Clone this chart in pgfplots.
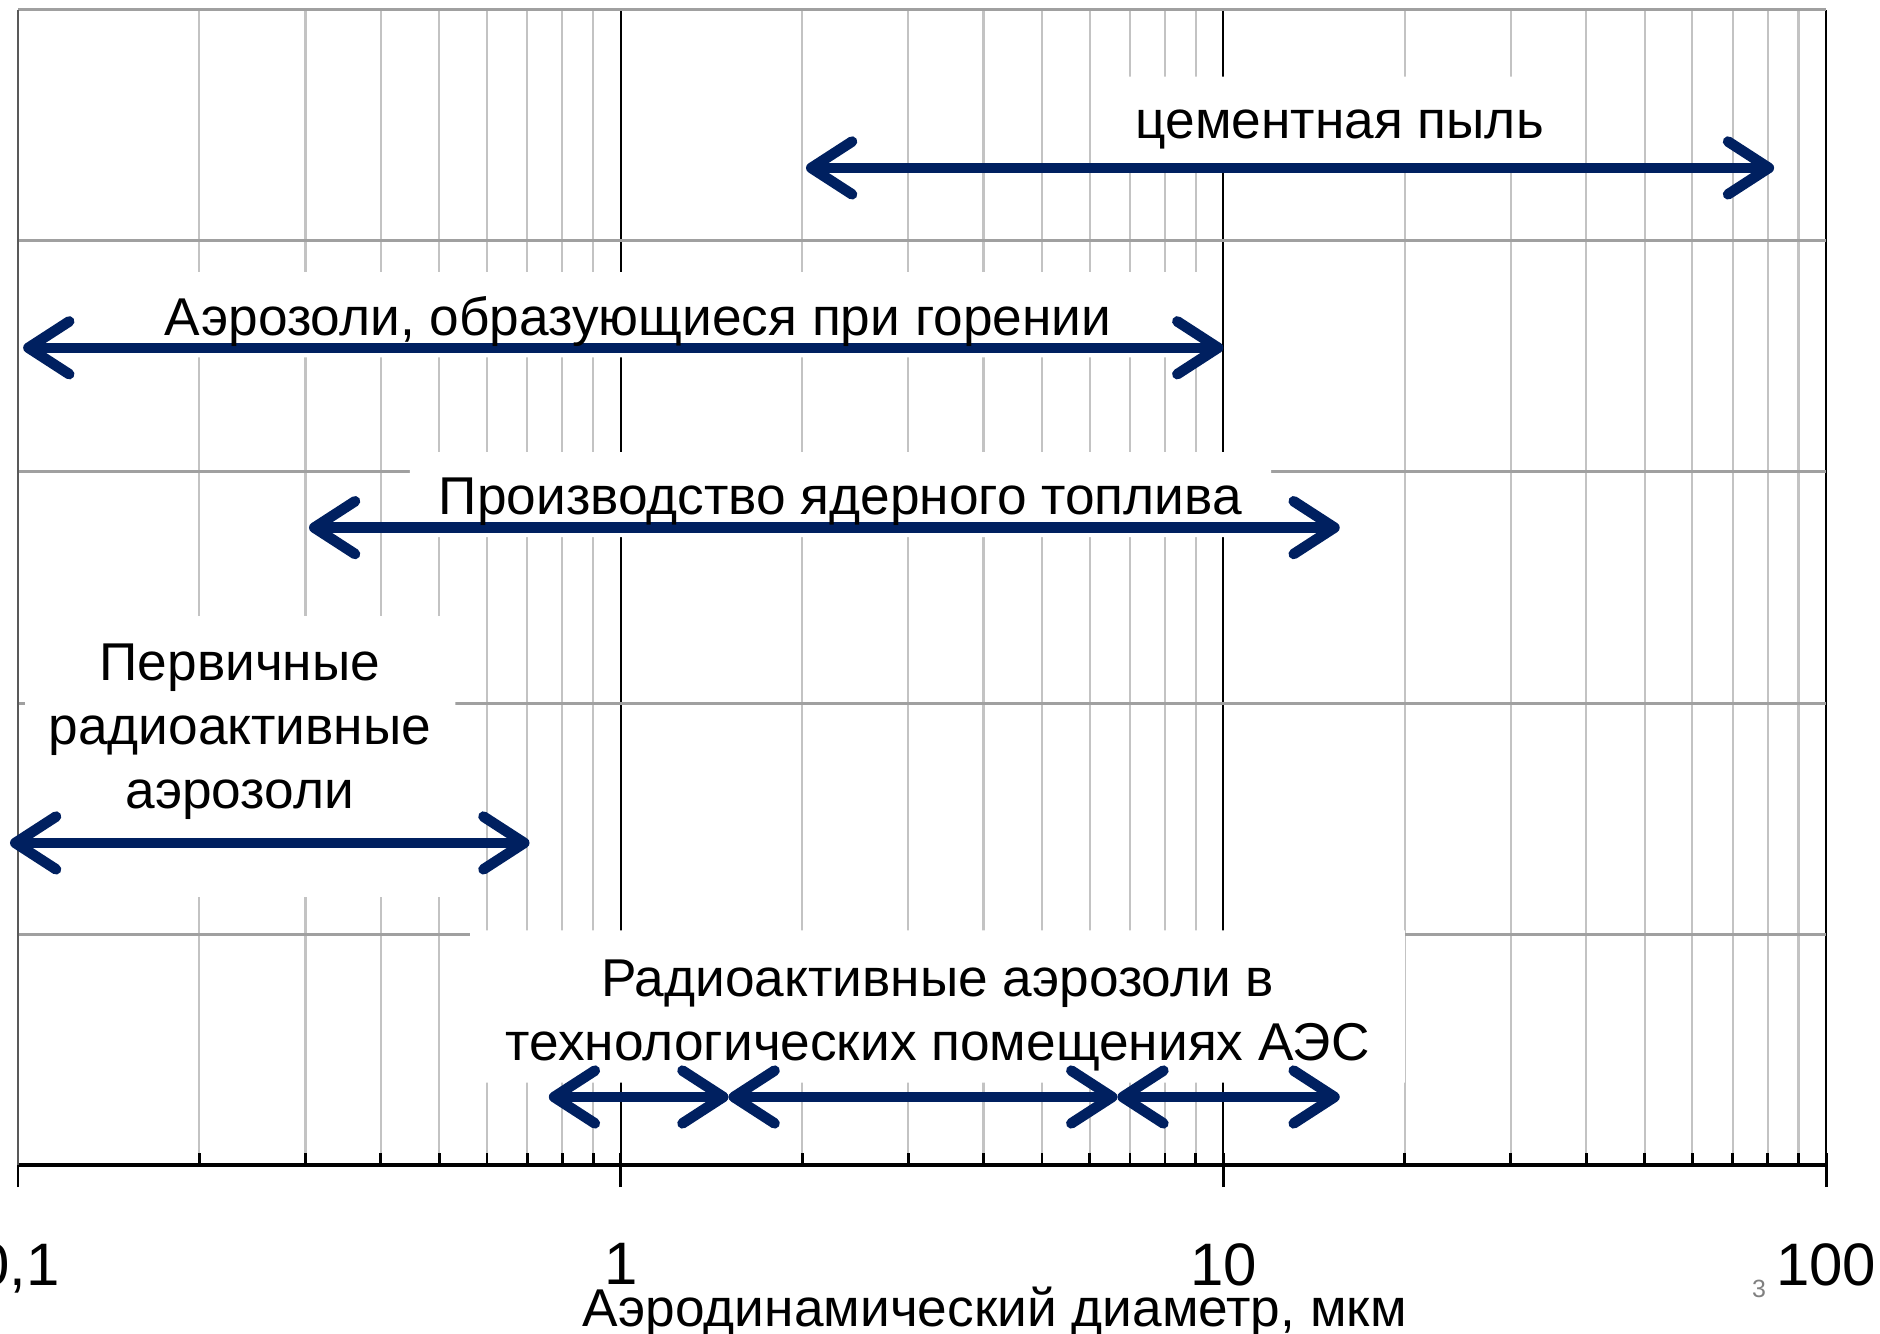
\documentclass[border=0pt]{standalone}
\usepackage{fontspec}
\setmainfont{Liberation Sans}
\usepackage{pgfplots}
\pgfplotsset{compat=1.18}
\usetikzlibrary{arrows.meta}
\definecolor{navy}{RGB}{0,32,96}
\definecolor{gridgray}{RGB}{195,195,195}
\definecolor{rowgray}{RGB}{160,160,160}

\begin{document}
\begin{tikzpicture}[
  rng/.style={navy, line width=2.2pt,
    {Straight Barb[length=8.5pt,width=11pt,round]}-{Straight Barb[length=8.5pt,width=11pt,round]}},
  lbl/.style={font=\fontsize{11.1}{13.3}\selectfont, align=center, inner sep=0pt}
]
\begin{axis}[
  xmode=log,
  scale only axis, width=377pt, height=241pt,
  xmin=0.1, xmax=100, ymin=0, ymax=5,
  axis x line*=bottom, axis y line*=left,
  x axis line style={black, line width=0.85pt},
  y axis line style={black!65, line width=0.5pt},
  xtick={0.1,1,10,100},
  xticklabels={{0,1},1,10,100},
  ytick={0,1,2,3,4,5}, yticklabels={},
  ytick style={draw=none},
  xtick align=inside,
  major tick length=2.5pt, minor tick length=2.5pt,
  xtick style={black, line width=0.6pt},
  extra x ticks={0.1,1,10,100},
  extra x tick labels={},
  extra x tick style={tick align=outside, major tick length=4.5pt, grid=none},
  xmajorgrids, xminorgrids, ymajorgrids,
  major x grid style={black, line width=0.45pt},
  minor x grid style={gridgray, line width=0.45pt},
  major y grid style={rowgray, line width=0.6pt},
  xticklabel style={font=\fontsize{12.5}{14}\selectfont, yshift=-12.8pt},
  xlabel={Аэродинамический диаметр, мкм},
  xlabel style={font=\fontsize{11.1}{13}\selectfont, at={(axis description cs:0.54,-0.127)}, anchor=center},
  no markers,
  clip=false,
]
% white label boxes
\addplot[draw=none, fill=white] coordinates {(6.92,4.315) (34.4,4.315) (34.4,4.71) (6.92,4.71) (6.92,4.315)};
\addplot[draw=none, fill=white] coordinates {(0.1023,3.496) (9.53,3.496) (9.53,3.864) (0.1023,3.864) (0.1023,3.496)};
\addplot[draw=none, fill=white] coordinates {(0.447,2.718) (12.0,2.718) (12.0,3.086) (0.447,3.086) (0.447,2.718)};
\addplot[draw=none, fill=white] coordinates {(0.1028,1.162) (0.532,1.162) (0.532,2.376) (0.1028,2.376) (0.1028,1.162)};
\addplot[draw=none, fill=white] coordinates {(0.5625,0.358) (20.0,0.358) (20.0,1.017) (0.5625,1.017) (0.5625,0.358)};
% size ranges
\addplot[rng] coordinates {(2.03,4.315) (82,4.315)};
\addplot[rng] coordinates {(0.102,3.537) (10,3.537)};
\addplot[rng] coordinates {(0.304,2.759) (15.6,2.759)};
\addplot[rng] coordinates {(0.097,1.395) (0.706,1.395)};
\addplot[rng] coordinates {(0.76,0.296) (1.51,0.296)};
\addplot[rng] coordinates {(1.51,0.296) (6.67,0.296)};
\addplot[rng] coordinates {(6.67,0.296) (15.6,0.296)};
% labels
\node[lbl] at (axis cs:15.6,4.482) {цементная пыль};
\node[lbl] at (axis cs:1.068,3.651) {Аэрозоли, образующиеся при горении};
\node[lbl] at (axis cs:2.315,2.873) {Производство ядерного топлива};
\node[lbl] at (axis cs:0.2334,1.877) {Первичные\\радиоактивные\\аэрозоли};
\node[lbl] at (axis cs:3.357,0.648) {Радиоактивные аэрозоли в\\технологических помещениях АЭС};
\node[font=\fontsize{5.2}{6}\selectfont, text=gray] at (rel axis cs:0.963,-0.107) {3};
\coordinate (SW) at (rel axis cs:0,0);
\coordinate (NE) at (rel axis cs:1,1);
\end{axis}
\pgfresetboundingbox
\path ([shift={(-3.75pt,-35pt)}]SW) rectangle ([shift={(11.25pt,2pt)}]NE);
\end{tikzpicture}
\end{document}
